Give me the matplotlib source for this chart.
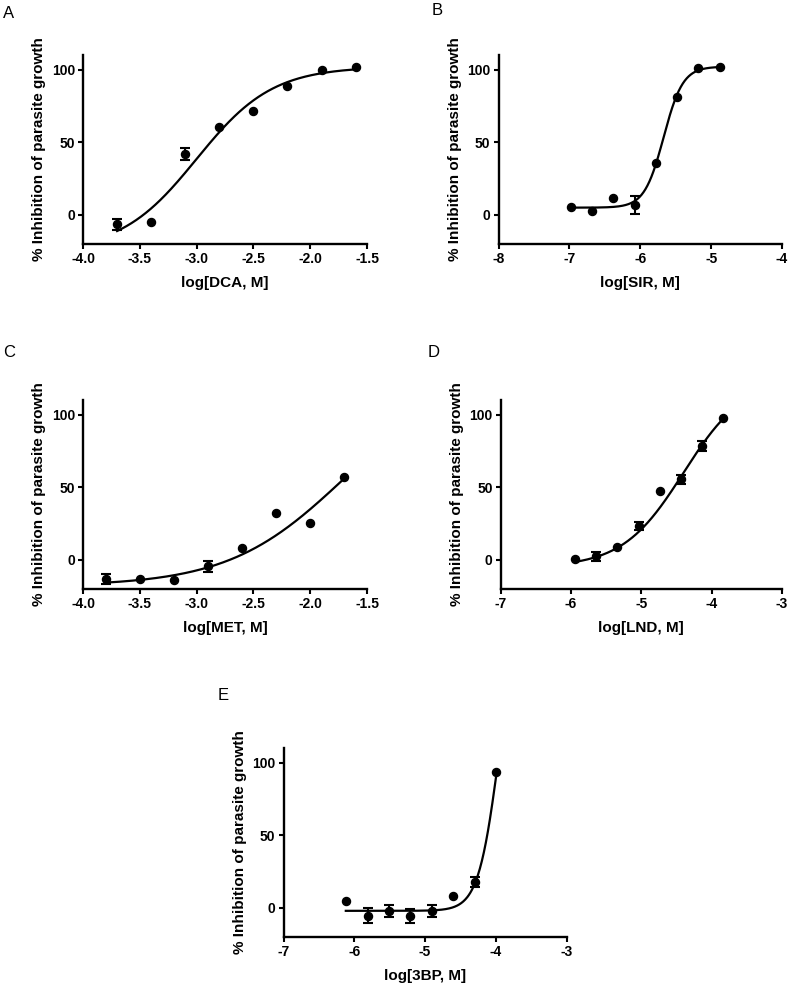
import numpy as np
import matplotlib
matplotlib.use("Agg")
import matplotlib.pyplot as plt

plt.rcParams['font.family'] = ['Liberation Sans', 'DejaVu Sans']

# =====================
# DATA
# =====================
dca_x = [-3.7, -3.4, -3.1, -2.8, -2.5, -2.2, -1.9, -1.6]
dca_y = [-6.5, -4.6, 41.8, 60.7, 71.8, 88.9, 99.8, 101.8]
dca_err = [4.0, 0, 4.0, 0, 0, 0, 0, 0]
dca_fit = [-25, 102, -3.0, 1.3]  # bottom, top, logEC50, hill

sir_x = [-6.98, -6.68, -6.38, -6.08, -5.78, -5.48, -5.18, -4.88]
sir_y = [5.3, 2.5, 11.5, 6.9, 35.6, 81.0, 101.0, 101.8]
sir_err = [0, 0, 0, 6.0, 0, 0, 0, 0]
sir_fit = [5, 102, -5.67, 3.2]

met_x = [-3.8, -3.5, -3.2, -2.9, -2.6, -2.3, -2.0, -1.7]
met_y = [-13.1, -13.1, -13.8, -4.4, 8.3, 32.0, 25.3, 57.0]
met_err = [3.7, 0, 0, 4.0, 0, 0, 0, 0]
met_fit = [-18, 130, -1.7, 0.85]

lnd_x = [-5.94, -5.64, -5.34, -5.04, -4.74, -4.44, -4.14, -3.84]
lnd_y = [0.5, 2.5, 9.2, 23.4, 47.4, 55.4, 78.6, 97.7]
lnd_err = [0, 3.0, 0, 3.0, 0, 3.0, 3.5, 0]
lnd_fit = [-5, 125, -4.4, 1.0]

bp_x = [-6.12, -5.81, -5.51, -5.21, -4.90, -4.61, -4.30, -4.0]
bp_y = [4.8, -5.3, -2.1, -5.5, -2.0, 8.3, 17.6, 93.3]
bp_err = [0, 5.0, 4.0, 5.0, 4.0, 0, 3.5, 0]
bp_fit = [-2, 210, -3.96, 3.0]

panels = [
    ('A', 'log[DCA, M]', dca_x, dca_y, dca_err, dca_fit, (-4.0, -1.5), np.arange(-4.0, -1.49, 0.5), '%.1f'),
    ('B', 'log[SIR, M]', sir_x, sir_y, sir_err, sir_fit, (-8, -4), np.arange(-8, -3.9, 1), '%d'),
    ('C', 'log[MET, M]', met_x, met_y, met_err, met_fit, (-4.0, -1.5), np.arange(-4.0, -1.49, 0.5), '%.1f'),
    ('D', 'log[LND, M]', lnd_x, lnd_y, lnd_err, lnd_fit, (-7, -3), np.arange(-7, -2.9, 1), '%d'),
    ('E', 'log[3BP, M]', bp_x, bp_y, bp_err, bp_fit, (-7, -3), np.arange(-7, -2.9, 1), '%d'),
]

# axes rectangles in pixels: left, top, right, bottom
W, H = 789, 984
boxes = [(83, 55, 367, 244), (498.5, 55, 782, 244),
         (83, 400, 367, 589), (500.7, 400, 782, 589),
         (283.5, 748, 566.7, 937)]
letter_pos = [(3, 18), (432, 15), (3, 357), (428, 357), (218, 700)]


def logistic(x, p):
    b, t, ec, h = p
    return b + (t - b) / (1 + 10 ** ((ec - x) * h))


fig = plt.figure(figsize=(W / 100, H / 100), dpi=100)

for (letter, xlab, x, y, err, fit, xlim, xt, fmt), (l, t, r, b), (lx, ly) in zip(panels, boxes, letter_pos):
    ax = fig.add_axes([l / W, 1 - b / H, (r - l) / W, (b - t) / H])
    xx = np.linspace(min(x), max(x), 300)
    ax.plot(xx, logistic(xx, fit), color='black', lw=1.6)
    yerr = np.array(err, dtype=float)
    ax.errorbar(x, y, yerr=np.where(yerr > 0, yerr, np.nan), fmt='none', ecolor='black',
                elinewidth=1.5, capsize=3.5, capthick=1.5)
    ax.plot(x, y, 'o', color='black', ms=5.8)
    ax.set_xlim(*xlim)
    ax.set_ylim(-20, 110)
    ax.set_xticks(xt)
    ax.set_xticklabels([fmt % v for v in xt])
    ax.set_yticks([0, 50, 100])
    for s in ['top', 'right']:
        ax.spines[s].set_visible(False)
    for s in ['left', 'bottom']:
        ax.spines[s].set_linewidth(1.7)
    ax.tick_params(width=1.5, length=3.8, labelsize=10, pad=2)
    for lab in ax.get_xticklabels() + ax.get_yticklabels():
        lab.set_fontweight('bold')
    ax.set_xlabel(xlab, fontsize=11, fontweight='bold', labelpad=7)
    ax.set_ylabel('% Inhibition of parasite growth', fontsize=11, fontweight='bold', labelpad=4)
    fig.text(lx / W, 1 - ly / H, letter, fontsize=12, va='baseline', ha='left')

fig.savefig('out.png', dpi=100)
